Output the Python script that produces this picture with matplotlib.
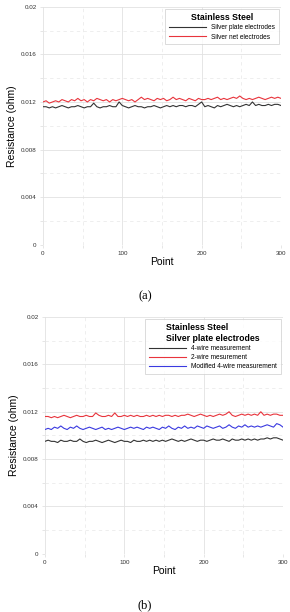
import numpy as np
import matplotlib
matplotlib.use('Agg')
import matplotlib.pyplot as plt
from matplotlib.ticker import MultipleLocator

plt.rcParams['font.family'] = ['Liberation Sans', 'DejaVu Sans']

# resistance readings in milliohm (one value every ~4 points)
a_plate = [11.6, 11.6, 11.5, 11.6, 11.5, 11.6, 11.7, 11.6, 11.5, 11.6, 11.6, 11.7, 11.6, 11.5, 11.6, 11.6,
           11.9, 11.6, 11.5, 11.6, 11.6, 11.7, 11.6, 11.6, 12.0, 11.7, 11.6, 11.5, 11.6, 11.7, 11.6, 11.6,
           11.5, 11.6, 11.6, 11.7, 11.6, 11.5, 11.6, 11.7, 11.6, 11.7, 11.6, 11.7, 11.7, 11.6, 11.7, 11.7,
           11.6, 11.8, 12.0, 11.6, 11.7, 11.6, 11.5, 11.7, 11.6, 11.7, 11.8, 11.7, 11.6, 11.7, 11.6, 11.7,
           11.8, 11.7, 12.0, 11.7, 11.8, 11.7, 11.7, 11.8, 11.7, 11.8, 11.8, 11.7]
a_net = [12.0, 12.1, 11.9, 12.0, 12.1, 12.0, 12.2, 12.1, 12.0, 12.2, 12.1, 12.3, 12.1, 12.2, 12.0, 12.2,
         12.1, 12.3, 12.2, 12.1, 12.2, 12.0, 12.2, 12.1, 12.2, 12.3, 12.2, 12.1, 12.2, 12.0, 12.2, 12.4,
         12.2, 12.3, 12.2, 12.1, 12.3, 12.2, 12.3, 12.1, 12.2, 12.4, 12.2, 12.3, 12.2, 12.1, 12.3, 12.2,
         12.1, 12.3, 12.2, 12.2, 12.3, 12.2, 12.3, 12.4, 12.2, 12.3, 12.2, 12.3, 12.4, 12.3, 12.5, 12.3,
         12.2, 12.3, 12.2, 12.3, 12.4, 12.3, 12.2, 12.3, 12.4, 12.3, 12.4, 12.3]

b_4wire = [9.5, 9.6, 9.5, 9.5, 9.4, 9.6, 9.5, 9.5, 9.6, 9.5, 9.5, 9.7, 9.5, 9.4, 9.5, 9.5,
           9.6, 9.5, 9.4, 9.5, 9.6, 9.5, 9.4, 9.5, 9.6, 9.5, 9.5, 9.4, 9.6, 9.5, 9.5, 9.6,
           9.5, 9.6, 9.5, 9.6, 9.5, 9.6, 9.5, 9.6, 9.7, 9.6, 9.5, 9.6, 9.5, 9.6, 9.7, 9.6,
           9.5, 9.6, 9.6, 9.5, 9.6, 9.7, 9.6, 9.6, 9.7, 9.6, 9.5, 9.7, 9.6, 9.6, 9.7, 9.6,
           9.7, 9.6, 9.7, 9.6, 9.7, 9.7, 9.8, 9.7, 9.8, 9.8, 9.7, 9.6]
b_2wire = [11.6, 11.6, 11.5, 11.6, 11.5, 11.6, 11.7, 11.6, 11.5, 11.6, 11.7, 11.6, 11.6, 11.7, 11.6, 11.6,
           11.9, 11.7, 11.6, 11.6, 11.7, 11.6, 11.9, 11.6, 11.6, 11.7, 11.6, 11.7, 11.6, 11.7, 11.6, 11.6,
           11.7, 11.6, 11.7, 11.6, 11.7, 11.6, 11.7, 11.7, 11.6, 11.7, 11.6, 11.7, 11.7, 11.8, 11.7, 11.6,
           11.7, 11.8, 11.7, 11.6, 11.7, 11.6, 11.7, 11.8, 11.7, 11.8, 12.0, 11.7, 11.6, 11.7, 11.8, 11.7,
           11.8, 11.7, 11.8, 11.7, 12.0, 11.7, 11.8, 11.7, 11.8, 11.8, 11.7, 11.7]
b_mod = [10.5, 10.6, 10.5, 10.7, 10.6, 10.8, 10.6, 10.5, 10.7, 10.6, 10.8, 10.6, 10.5, 10.6, 10.7, 10.6,
         10.5, 10.6, 10.7, 10.5, 10.6, 10.5, 10.6, 10.7, 10.6, 10.5, 10.6, 10.7, 10.6, 10.7, 10.6, 10.5,
         10.7, 10.6, 10.7, 10.6, 10.5, 10.7, 10.6, 10.8, 10.6, 10.5, 10.7, 10.6, 10.8, 10.6, 10.7, 10.6,
         10.8, 10.7, 10.6, 10.8, 10.7, 10.6, 10.7, 10.8, 10.6, 10.7, 10.9, 10.7, 10.6, 10.8, 10.7, 10.9,
         10.7, 10.8, 10.7, 10.8, 10.7, 10.8, 10.9, 10.8, 10.7, 11.0, 10.9, 10.7]

yticks = [0, 0.004, 0.008, 0.012, 0.016, 0.02]
yticklabels = ['0', '0.004', '0.008', '0.012', '0.016', '0.02']
xticks = [0, 100, 200, 300]

grid_c = '#e2e2e2'


def style(ax):
    ax.set_xlim(0, 300)
    ax.set_ylim(0, 0.02)
    ax.set_xticks(xticks)
    ax.set_yticks(yticks)
    ax.set_yticklabels(yticklabels)
    ax.xaxis.set_minor_locator(MultipleLocator(50))
    ax.yaxis.set_minor_locator(MultipleLocator(0.002))
    ax.grid(which='major', color=grid_c, lw=0.6)
    ax.grid(which='minor', color='#ebebeb', lw=0.6, ls=(0, (4, 4)))
    for s in ax.spines.values():
        s.set_visible(False)
    ax.tick_params(which='both', length=2.5, width=0.6, color=grid_c, labelsize=4.5,
                   labelcolor='#333333', pad=2)
    ax.set_xlabel('Point', fontsize=7.5, labelpad=1)
    ax.set_ylabel('Resistance (ohm)', fontsize=7.5, labelpad=3)


def series(ax, vals, color, label):
    x = np.linspace(0, 300, len(vals))
    ax.plot(x, np.array(vals) * 1e-3, color=color, lw=0.8, label=label)


def legend(ax, title):
    leg = ax.legend(title=title, loc='upper right', fontsize=4.7, frameon=True,
                    fancybox=False, edgecolor='#cccccc', handlelength=5.7, borderaxespad=0.35,
                    borderpad=0.6, labelspacing=0.35, handletextpad=0.8,
                    title_fontproperties={'weight': 'bold', 'size': 6.3})
    leg.get_title().set_multialignment('left')
    leg.get_frame().set_linewidth(0.6)
    return leg


fig = plt.figure(figsize=(2.9, 6.12), dpi=100)

ax1 = fig.add_axes([0.148, 0.600, 0.821, 0.389])
style(ax1)
series(ax1, a_plate, '#333333', 'Silver plate electrodes')
series(ax1, a_net, '#e8343c', 'Silver net electrodes')
legend(ax1, 'Stainless Steel')
fig.text(0.5, 1 - 296 / 612, '(a)', ha='center', va='center', fontsize=9,
         family=['Liberation Serif', 'DejaVu Serif'])

ax2 = fig.add_axes([0.155, 0.095, 0.821, 0.387])
style(ax2)
series(ax2, b_4wire, '#333333', '4-wire measurement')
series(ax2, b_2wire, '#e8343c', '2-wire mesurement')
series(ax2, b_mod, '#3a3ae0', 'Modified 4-wire measurement')
legend(ax2, 'Stainless Steel\nSilver plate electrodes')
fig.text(0.5, 1 - 605 / 612, '(b)', ha='center', va='center', fontsize=9,
         family=['Liberation Serif', 'DejaVu Serif'])

fig.savefig('out.png', dpi=100)
